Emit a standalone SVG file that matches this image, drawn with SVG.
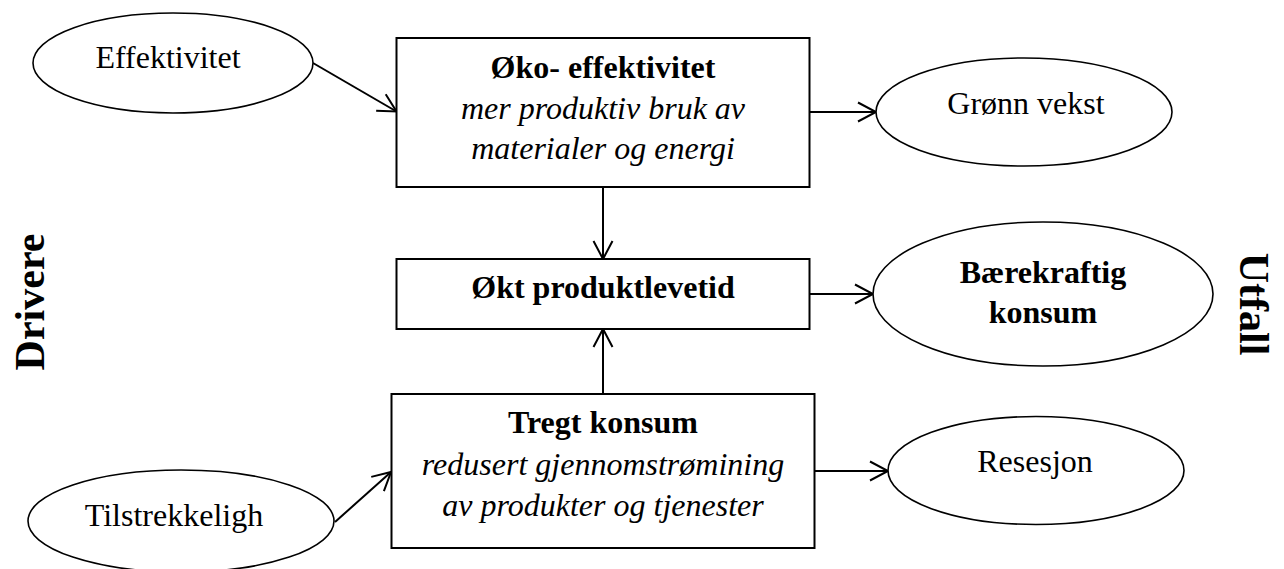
<svg xmlns="http://www.w3.org/2000/svg" width="1284" height="569" viewBox="0 0 1284 569">
<style>
text{font-family:"Liberation Serif","Times New Roman",serif;fill:#000;font-size:32px;text-anchor:middle}
.b{font-weight:bold}
.i{font-style:italic}
.side{font-weight:bold;font-size:42px}
.box{fill:#fff;stroke:#000;stroke-width:2}
.ell{fill:#fff;stroke:#000;stroke-width:1.6}
.conn line{stroke:#000;stroke-width:2;fill:none}
</style>
<defs>
<marker id="arr" markerUnits="userSpaceOnUse" viewBox="-22 -12 24 24" markerWidth="24" markerHeight="24" refX="0" refY="0" orient="auto" overflow="visible">
<path d="M-18,-9.5 L0,0 L-18,9.5" fill="none" stroke="#000" stroke-width="2"/>
</marker>
</defs>
<rect width="1284" height="569" fill="#fff"/>
<g class="conn">
<line x1="313" y1="63" x2="396.5" y2="111.5" marker-end="url(#arr)"/>
<line x1="809.5" y1="112" x2="876" y2="112" marker-end="url(#arr)"/>
<line x1="603" y1="187" x2="603" y2="259" marker-end="url(#arr)"/>
<line x1="809.5" y1="294" x2="873" y2="294" marker-end="url(#arr)"/>
<line x1="603" y1="394" x2="603" y2="329" marker-end="url(#arr)"/>
<line x1="335" y1="522" x2="391" y2="472" marker-end="url(#arr)"/>
<line x1="814.5" y1="471" x2="888" y2="471" marker-end="url(#arr)"/>
</g>
<g id="effektivitet">
<ellipse class="ell" cx="173" cy="63" rx="140" ry="50"/>
<text x="168" y="68">Effektivitet</text>
</g>
<g id="oko">
<rect class="box" x="396.5" y="38" width="413" height="149"/>
<text class="b" x="603" y="78">Øko- effektivitet</text>
<text class="i" x="603" y="119">mer produktiv bruk av</text>
<text class="i" x="603" y="159">materialer og energi</text>
</g>
<g id="gronn">
<ellipse class="ell" cx="1024" cy="112" rx="148" ry="54"/>
<text x="1026" y="114">Grønn vekst</text>
</g>
<g id="okt">
<rect class="box" x="396.5" y="259" width="413" height="70"/>
<text class="b" x="603" y="298">Økt produktlevetid</text>
</g>
<g id="baerekraftig">
<ellipse class="ell" cx="1043" cy="294" rx="170" ry="72"/>
<text class="b" x="1043" y="283">Bærekraftig</text>
<text class="b" x="1043" y="323">konsum</text>
</g>
<g id="tregt">
<rect class="box" x="391.5" y="394" width="423" height="154"/>
<text class="b" x="603" y="433">Tregt konsum</text>
<text class="i" x="603" y="475">redusert gjennomstrømining</text>
<text class="i" x="603" y="516">av produkter og tjenester</text>
</g>
<g id="tilstrekkeligh">
<ellipse class="ell" cx="181" cy="521" rx="153" ry="51"/>
<text x="174" y="526">Tilstrekkeligh</text>
</g>
<g id="resesjon">
<ellipse class="ell" cx="1036" cy="470.5" rx="148" ry="54"/>
<text x="1035" y="472">Resesjon</text>
</g>
<g id="drivere">
<text class="side" transform="translate(44,302) rotate(-90)" x="0" y="0">Drivere</text>
</g>
<g id="utfall">
<text class="side" transform="translate(1240,304) rotate(90)" x="0" y="0">Utfall</text>
</g>
</svg>
